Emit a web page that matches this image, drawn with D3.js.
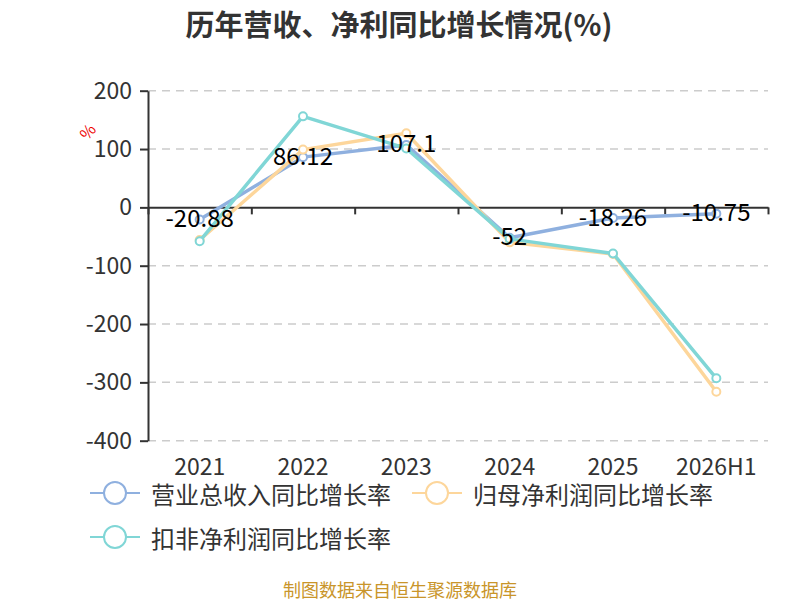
<!DOCTYPE html>
<html>
<head>
<meta charset="utf-8">
<script src="https://cdn.jsdelivr.net/npm/d3@7"></script>
<style>
  body { margin: 0; background: #fff; }
  svg { font-family: "Noto Sans CJK SC", "Noto Sans", sans-serif; }
</style>
</head>
<body>
<svg id="chart" width="800" height="600"></svg>
<script>
// data
var years = ['2021', '2022', '2023', '2024', '2025', '2026H1'];
var revenue = [-20.88, 86.12, 107.1, -52, -18.26, -10.75];
var netProfit = [-56, 99, 127, -60, -80, -316];
var deductProfit = [-58, 156, 101, -54, -79, -293];
var yTicks = [200, 100, 0, -100, -200, -300, -400];
var seriesNames = ['营业总收入同比增长率', '归母净利润同比增长率', '扣非净利润同比增长率'];
var colors = ['#8fb0df', '#fdd69b', '#80d6d6'];

var svg = d3.select('#chart');
var plotLeft = 148, plotRight = 768, plotTop = 90.7, plotBottom = 440.7;

var y = d3.scaleLinear().domain([-400, 200]).range([plotBottom, plotTop]);
var x = d3.scaleBand().domain(years).range([plotLeft, plotRight]);
var xEdge = d3.scaleLinear().domain([0, years.length]).range([plotLeft, plotRight]);
var cx = function(d){ return x(d) + x.bandwidth()/2; };

//Title
svg.append('text').attr('x', 399).attr('y', 23)
   .attr('text-anchor', 'middle').attr('dominant-baseline', 'central')
   .style('font-size', '29px').style('font-weight', 'bold').style('fill', '#333')
   .text('历年营收、净利同比增长情况(%)');

//Grid lines
svg.append('g').selectAll('line').data(yTicks.filter(function(d){ return d != 0; }))
   .enter().append('line')
   .attr('x1', plotLeft).attr('x2', plotRight)
   .attr('y1', function(d){ return y(d); }).attr('y2', function(d){ return y(d); })
   .attr('stroke', '#ccc').attr('stroke-width', 1.5).attr('stroke-dasharray', '8,6');

//Y axis
var yAxis = svg.append('g').attr('transform', 'translate(' + plotLeft + ',0)')
   .call(d3.axisLeft(y).tickValues(yTicks).tickFormat(function(d){ return String(d); })
         .tickSize(8).tickPadding(8).tickSizeOuter(0));
yAxis.select('.domain').attr('stroke', '#333').attr('stroke-width', 2);
yAxis.selectAll('.tick line').attr('stroke', '#333').attr('stroke-width', 2);
yAxis.selectAll('.tick text').style('font-size', '23px').style('fill', '#333')
   .style('font-family', '"Noto Sans CJK SC", "Noto Sans", sans-serif');

//X axis on zero line
var xAxis = svg.append('g').attr('transform', 'translate(0,' + y(0) + ')')
   .call(d3.axisBottom(xEdge).tickValues(d3.range(years.length + 1)).tickFormat('').tickSize(7).tickSizeOuter(0));
xAxis.select('.domain').attr('stroke', '#333').attr('stroke-width', 2);
xAxis.selectAll('.tick line').attr('stroke', '#333').attr('stroke-width', 2);

svg.append('g').selectAll('text').data(years).enter().append('text')
   .attr('x', cx).attr('y', 465)
   .attr('text-anchor', 'middle').attr('dominant-baseline', 'central')
   .style('font-size', '23px').style('fill', '#333')
   .text(function(d){ return d; });

//Axis name
svg.append('text').attr('transform', 'translate(87,131) rotate(-50)')
   .attr('text-anchor', 'middle').attr('dominant-baseline', 'central')
   .style('font-size', '16px').style('fill', '#e00')
   .text('%');

//Lines
var allSeries = [revenue, netProfit, deductProfit];
var line = d3.line().x(function(d, i){ return cx(years[i]); }).y(function(d){ return y(d); });

allSeries.forEach(function(vals, k){
	var g = svg.append('g');
	g.append('path').datum(vals).attr('d', line)
	 .attr('fill', 'none').attr('stroke', colors[k]).attr('stroke-width', 3.5)
	 .attr('stroke-linejoin', 'round');
	g.selectAll('circle').data(vals).enter().append('circle')
	 .attr('cx', function(d, i){ return cx(years[i]); })
	 .attr('cy', function(d){ return y(d); })
	 .attr('r', 4).attr('fill', '#fff')
	 .attr('stroke', colors[k]).attr('stroke-width', 2);
});

//Value labels for revenue
svg.append('g').selectAll('text').data(revenue).enter().append('text')
   .attr('x', function(d, i){ return cx(years[i]); })
   .attr('y', function(d){ return y(d) - 3; })
   .attr('text-anchor', 'middle').attr('dominant-baseline', 'central')
   .style('font-size', '24px').style('fill', '#000')
   .text(function(d){ return d; });

//Legend
var legendPos = [[90, 493], [412, 493], [90, 537]];
seriesNames.forEach(function(name, k){
	var lg = svg.append('g').attr('transform', 'translate(' + legendPos[k][0] + ',' + legendPos[k][1] + ')');
	lg.append('line').attr('x1', 0).attr('x2', 50).attr('y1', 0).attr('y2', 0)
	  .attr('stroke', colors[k]).attr('stroke-width', 2);
	lg.append('circle').attr('cx', 25).attr('cy', 0).attr('r', 11)
	  .attr('fill', '#fff').attr('stroke', colors[k]).attr('stroke-width', 2);
	lg.append('text').attr('x', 61).attr('y', 0).attr('dominant-baseline', 'central')
	  .style('font-size', '24px').style('fill', '#333').text(name);
});

//Footer
svg.append('text').attr('x', 400).attr('y', 589)
   .attr('text-anchor', 'middle').attr('dominant-baseline', 'central')
   .style('font-size', '18px').style('fill', '#c9952a')
   .text('制图数据来自恒生聚源数据库');
</script>
</body>
</html>
